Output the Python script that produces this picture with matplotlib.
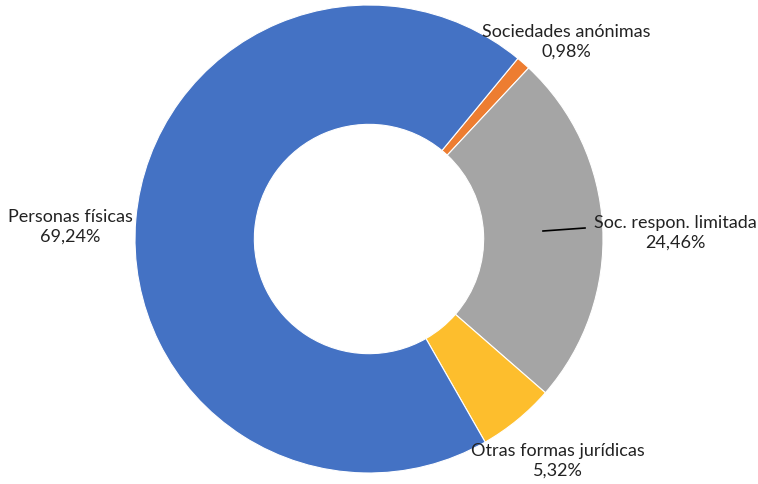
import matplotlib.pyplot as plt

# Forma jurídica - distribución
categories = ["Sociedades anónimas", "Soc. respon. limitada",
              "Otras formas jurídicas", "Personas físicas"]
values = [0.98, 24.46, 5.32, 69.24]
colors = ["#ED7D31", "#A5A5A5", "#FDBE2D", "#4472C4"]

plt.rcParams["font.family"] = ["Lato", "DejaVu Sans"]

fig = plt.figure(figsize=(7.58, 4.85), dpi=100)
ax = fig.add_axes([0, 0, 1, 1])

ax.pie(values, colors=colors, startangle=50.5, counterclock=False,
       radius=1, wedgeprops=dict(width=0.51, edgecolor="white", linewidth=0.8))

# 1 unit = 234 px, centre at (369, 240) px
s = 234.0
cx, cy = 369, 240
ax.set_xlim(-cx / s, (758 - cx) / s)
ax.set_ylim(-(485 - cy) / s, cy / s)
ax.set_aspect("equal")
ax.axis("off")


def px(x, y):
    return (x - cx) / s, (cy - y) / s


def label(name, val, x, y):
    tx, ty = px(x, y)
    pct = f"{val:.2f}%".replace(".", ",")
    ax.text(tx, ty, f"{name}\n{pct}", ha="center",
            va="center", fontsize=13, color="#222222", linespacing=1.27)


label(categories[0], values[0], 566, 42)
label(categories[1], values[1], 675, 233)
label(categories[2], values[2], 558, 461)
label(categories[3], values[3], 70, 227)

x0, y0 = px(543, 232)
x1, y1 = px(585, 229)
ax.plot([x0, x1], [y0, y1], color="black", linewidth=1.2)

fig.savefig("out.png", dpi=100)
